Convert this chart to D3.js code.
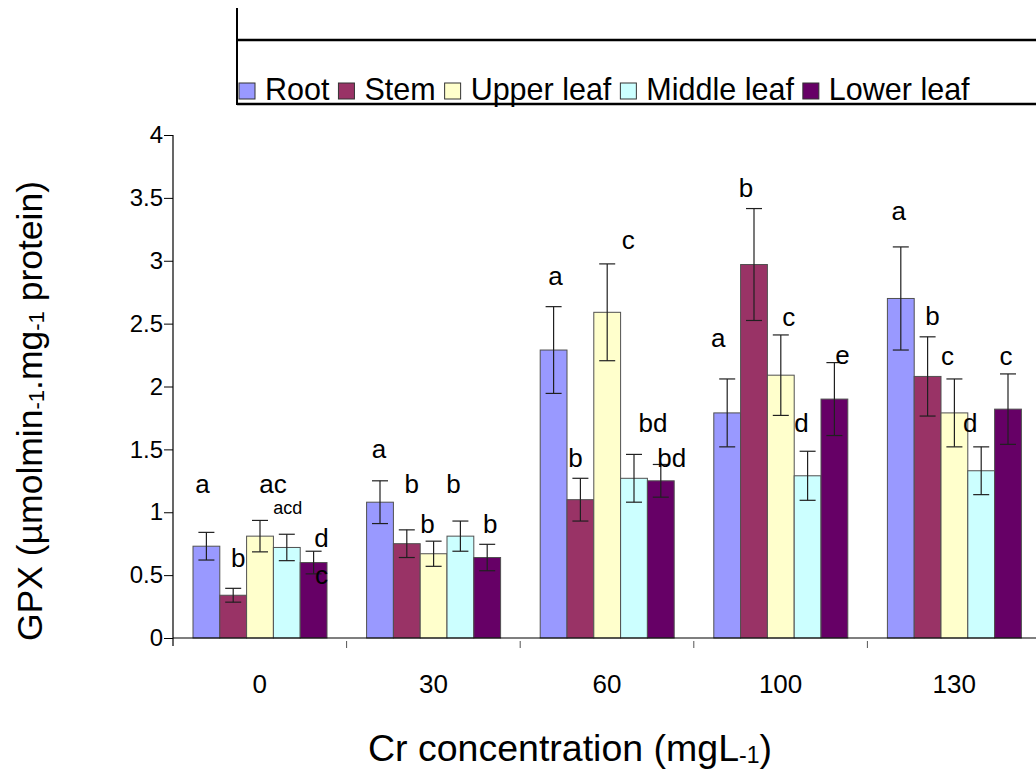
<!DOCTYPE html>
<html>
<head>
<meta charset="utf-8">
<script src="https://cdn.jsdelivr.net/npm/d3@7/dist/d3.min.js"></script>
<style>
  html, body { margin: 0; padding: 0; background: #fff; }
  svg { display: block; font-family: "Liberation Sans", Arial, sans-serif; }
</style>
</head>
<body>
<svg id="chart" width="1036" height="770"></svg>
<script>
// ---- data ----
const categories = ["0", "30", "60", "100", "130"];
const seriesNames = ["Root", "Stem", "Upper leaf", "Middle leaf", "Lower leaf"];
const seriesColors = ["#9999FF", "#993366", "#FFFFCC", "#CCFFFF", "#660066"];
// values per series, one entry per category
const rootValues   = [0.73, 1.08, 2.29, 1.79, 2.70];
const stemValues   = [0.34, 0.75, 1.10, 2.97, 2.08];
const upperValues  = [0.81, 0.67, 2.59, 2.09, 1.79];
const middleValues = [0.72, 0.81, 1.27, 1.29, 1.33];
const lowerValues  = [0.60, 0.64, 1.25, 1.90, 1.82];
const rootErr   = [0.11, 0.17, 0.345, 0.27, 0.41];
const stemErr   = [0.055, 0.11, 0.17, 0.445, 0.315];
const upperErr  = [0.125, 0.10, 0.385, 0.32, 0.27];
const middleErr = [0.105, 0.12, 0.19, 0.195, 0.19];
const lowerErr  = [0.09, 0.105, 0.13, 0.29, 0.28];
const yTicks = [0, 0.5, 1, 1.5, 2, 2.5, 3, 3.5, 4];
// significance letters: [categoryIndex, seriesIndex, text, y value of baseline, dx, small]
const sigLetters = [
  [0, 0, "a", 1.153, -4, 0], [0, 1, "b", 0.565, 5, 0], [0, 2, "ac", 1.153, 13, 0],
  [0, 3, "acd", 0.986, 1, 1], [0, 4, "d", 0.724, 8, 0], [0, 4, "c", 0.429, 8, 0],
  [1, 0, "a", 1.431, -1, 0], [1, 1, "b", 1.153, 5, 0], [1, 2, "b", 0.835, -6, 0],
  [1, 3, "b", 1.153, -7, 0], [1, 4, "b", 0.835, 3, 0],
  [2, 0, "a", 2.807, 2, 0], [2, 1, "b", 1.36, -5, 0], [2, 2, "c", 3.093, 21, 0],
  [2, 3, "bd", 1.638, 19, 0], [2, 4, "bd", 1.36, 11, 0],
  [3, 0, "a", 2.314, -9, 0], [3, 1, "b", 3.507, -8, 0], [3, 2, "c", 2.481, 8, 0],
  [3, 3, "d", 1.638, -6, 0], [3, 4, "e", 2.179, 8, 0],
  [4, 0, "a", 3.324, -2, 0], [4, 1, "b", 2.489, 5, 0], [4, 2, "c", 2.17, -7, 0],
  [4, 3, "d", 1.638, -11, 0], [4, 4, "c", 2.17, -2, 0]
];

const allValues = [rootValues, stemValues, upperValues, middleValues, lowerValues];
const allErr = [rootErr, stemErr, upperErr, middleErr, lowerErr];

// ---- layout ----
const svg = d3.select("#chart");
const plotLeft = 173, plotBottom = 638, plotTop = 135;
const groupW = 173.6;

const x0 = d3.scaleBand().domain(categories)
  .range([plotLeft, plotLeft + groupW * categories.length]).padding(0);
const x1 = d3.scaleBand().domain(seriesNames).range([20, groupW - 19.6]).padding(0);
const y = d3.scaleLinear().domain([0, 4]).range([plotBottom, plotTop]);

// bars
const barData = [];
categories.forEach((c, ci) => {
  seriesNames.forEach((s, si) => {
    barData.push({c, ci, s, si, v: allValues[si][ci], e: allErr[si][ci]});
  });
});

svg.append("g").selectAll("rect").data(barData).join("rect")
  .attr("x", d => x0(d.c) + x1(d.s))
  .attr("y", d => y(d.v))
  .attr("width", x1.bandwidth())
  .attr("height", d => y(0) - y(d.v))
  .attr("fill", d => seriesColors[d.si])
  .attr("stroke", "#505050")
  .attr("stroke-width", 1);

// error bars
const eg = svg.append("g").attr("stroke", "#202020").attr("stroke-width", 1.2);
barData.forEach(d => {
  const cx = x0(d.c) + x1(d.s) + x1.bandwidth() / 2;
  eg.append("line").attr("x1", cx).attr("x2", cx).attr("y1", y(d.v + d.e)).attr("y2", y(d.v - d.e));
  eg.append("line").attr("x1", cx - 8).attr("x2", cx + 8).attr("y1", y(d.v + d.e)).attr("y2", y(d.v + d.e));
  eg.append("line").attr("x1", cx - 8).attr("x2", cx + 8).attr("y1", y(d.v - d.e)).attr("y2", y(d.v - d.e));
});

// y axis
const yAxis = d3.axisLeft(y).tickValues(yTicks).tickSize(9).tickPadding(1)
  .tickFormat(d => String(d));
const yg = svg.append("g").attr("transform", `translate(${plotLeft},0)`).call(yAxis);
yg.select(".domain").remove();
yg.selectAll("text").attr("font-size", 24).attr("fill", "#000")
  .attr("font-family", "Liberation Sans, Arial, sans-serif");
yg.selectAll("line").attr("stroke", "#000");
svg.append("line").attr("x1", plotLeft).attr("x2", plotLeft)
  .attr("y1", plotTop).attr("y2", plotBottom + 8).attr("stroke", "#000").attr("stroke-width", 1.2);

// x axis
svg.append("line").attr("x1", plotLeft).attr("x2", 1036)
  .attr("y1", plotBottom).attr("y2", plotBottom).attr("stroke", "#000").attr("stroke-width", 1.2);
const xg = svg.append("g").attr("transform", `translate(0,${plotBottom})`);
xg.selectAll("line.sep").data(categories.slice(1)).join("line")
  .attr("class", "sep")
  .attr("x1", d => x0(d)).attr("x2", d => x0(d))
  .attr("y1", 3).attr("y2", 10).attr("stroke", "#555").attr("stroke-width", 1);
xg.selectAll("text").data(categories).join("text")
  .attr("x", d => x0(d) + x0.bandwidth() / 2)
  .attr("y", 55)
  .attr("text-anchor", "middle")
  .attr("font-size", 26)
  .text(d => d);

// significance letters
svg.append("g").selectAll("text").data(sigLetters).join("text")
  .attr("x", d => x0(categories[d[0]]) + x1(seriesNames[d[1]]) + x1.bandwidth() / 2 + d[4])
  .attr("y", d => y(d[3]))
  .attr("text-anchor", "middle")
  .attr("font-size", d => d[5] ? 18 : 26)
  .attr("fill", "#000")
  .text(d => d[2]);

// axis titles
const xt = svg.append("text").attr("x", 570).attr("y", 761)
  .attr("text-anchor", "middle").attr("font-size", 37.5).attr("fill", "#000");
xt.append("tspan").text("Cr concentration (mgL");
xt.append("tspan").attr("font-size", 23).attr("dy", 2).text("-1");
xt.append("tspan").attr("dy", -2).text(")");

const yt = svg.append("text").attr("transform", "translate(42,411) rotate(-90)")
  .attr("text-anchor", "middle").attr("font-size", 35.5).attr("fill", "#000");
yt.append("tspan").text("GPX (µmolmin");
yt.append("tspan").attr("font-size", 22).attr("dy", 2).text("-1");
yt.append("tspan").attr("dy", -2).text(".mg");
yt.append("tspan").attr("font-size", 22).attr("dy", 2).text("-1");
yt.append("tspan").attr("dy", -2).text(" protein)");

// legend box lines
svg.append("line").attr("x1", 237).attr("x2", 1036).attr("y1", 40).attr("y2", 40)
  .attr("stroke", "#000").attr("stroke-width", 2.5);
svg.append("line").attr("x1", 237).attr("x2", 237).attr("y1", 8).attr("y2", 105)
  .attr("stroke", "#000").attr("stroke-width", 2);
svg.append("line").attr("x1", 237).attr("x2", 1036).attr("y1", 104).attr("y2", 104)
  .attr("stroke", "#000").attr("stroke-width", 2.5);

// legend items
const lg = svg.append("g");
let lx = 239;
seriesNames.forEach((s, i) => {
  lg.append("rect").attr("x", lx).attr("y", 83).attr("width", 16).attr("height", 16)
    .attr("fill", seriesColors[i]).attr("stroke", "#333").attr("stroke-width", 1);
  lx += 26;
  const t = lg.append("text").attr("x", lx).attr("y", 100).attr("font-size", 30.5)
    .attr("fill", "#000").text(s);
  lx += t.node().getComputedTextLength() + 9;
});
</script>
</body>
</html>
